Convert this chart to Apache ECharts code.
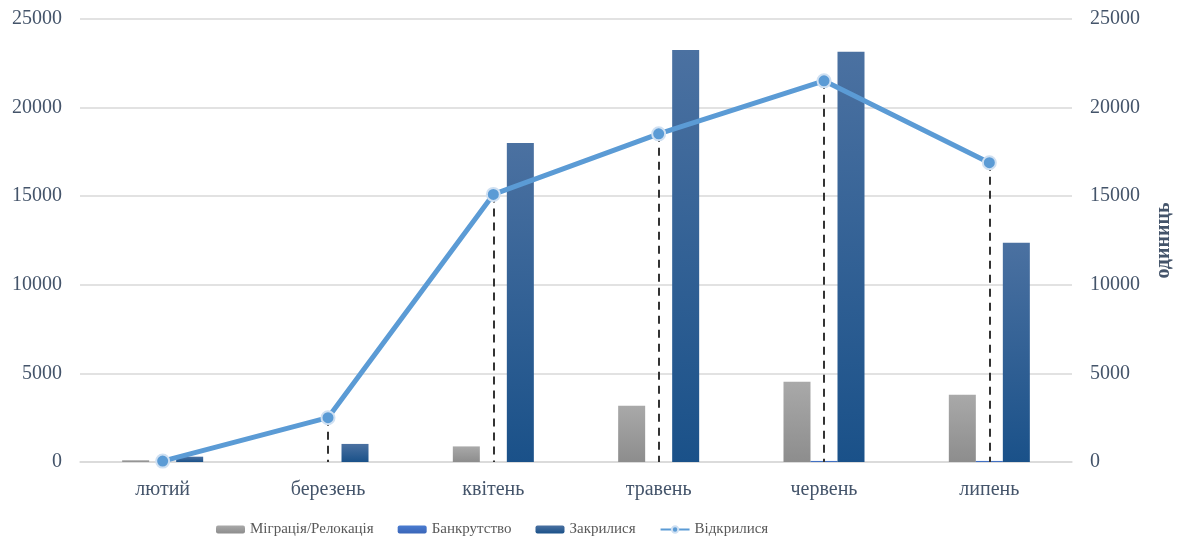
<!DOCTYPE html>
<html>
<head>
<meta charset="utf-8">
<script src="https://cdn.jsdelivr.net/npm/echarts@6/dist/echarts.min.js"></script>
<style>
html, body { margin: 0; padding: 0; background: #fff; }
#chart { width: 1177px; height: 544px; }
</style>
</head>
<body>
<div id="chart"></div>
<script>
// місяці
var months = ['лютий', 'березень', 'квітень', 'травень', 'червень', 'липень'];
var migration = [100, 0, 880, 3170, 4530, 3800];        // Міграція/Релокація
var bankrupt = [0, 0, 0, 0, 60, 60];                    // Банкрутство
var closedCount = [300, 1020, 18000, 23250, 23150, 12370]; // Закрилися (не "closed" - це window.closed)
var opened = [50, 2500, 15100, 18520, 21510, 16890];     // Відкрилися
var yTicks = [0, 5000, 10000, 15000, 20000, 25000];

var serif = '"Liberation Serif", "DejaVu Serif", serif';
var labelColor = '#44546a';

function grad(top, bottom) {
  return new echarts.graphic.LinearGradient(0, 0, 0, 1, [
    { offset: 0, color: top }, { offset: 1, color: bottom }
  ]);
}

var yMax = yTicks[yTicks.length - 1];
var yStep = yTicks[1] - yTicks[0];
var plain = function (v) { return String(v); };

var chart = echarts.init(document.getElementById('chart'));
chart.setOption({
  animation: false,
  grid: { left: 80, right: 105, top: 19, bottom: 82, outerBoundsMode: 'none', containLabel: false },
  legend: {
    bottom: 2,
    left: 211,
    itemWidth: 29,
    itemHeight: 8,
    itemGap: 24,
    textStyle: { fontFamily: serif, fontSize: 15, color: '#595959' },
    data: ['Міграція/Релокація', 'Банкрутство', 'Закрилися', 'Відкрилися']
  },
  xAxis: {
    type: 'category',
    data: months,
    axisTick: { show: false },
    axisLine: { lineStyle: { color: '#d9d9d9', width: 1.5 } },
    axisLabel: { fontFamily: serif, fontSize: 20, color: labelColor, margin: 18 }
  },
  yAxis: [{
    type: 'value', min: 0, max: yMax, interval: yStep,
    axisLabel: { fontFamily: serif, fontSize: 20, color: labelColor, margin: 18, formatter: plain },
    splitLine: { lineStyle: { color: '#d9d9d9', width: 1.5 } }
  }, {
    type: 'value', min: 0, max: yMax, interval: yStep,
    name: 'одиниць',
    nameLocation: 'middle',
    nameRotate: 90,
    nameGap: 82,
    nameTextStyle: { fontFamily: serif, fontSize: 20, fontWeight: 'bold', color: labelColor },
    axisLabel: { fontFamily: serif, fontSize: 20, color: labelColor, margin: 18, formatter: plain },
    splitLine: { show: false }
  }],
  series: [{
    name: 'Міграція/Релокація',
    type: 'bar',
    data: migration,
    barGap: '0%',
    barCategoryGap: '51%',
    itemStyle: { color: grad('#a9a9a9', '#8d8d8d') }
  }, {
    name: 'Банкрутство',
    type: 'bar',
    data: bankrupt,
    barGap: '0%',
    barCategoryGap: '51%',
    itemStyle: { color: grad('#4a7bd0', '#3a66b8') }
  }, {
    name: 'Закрилися',
    type: 'bar',
    data: closedCount,
    barGap: '0%',
    barCategoryGap: '51%',
    itemStyle: { color: grad('#4b71a1', '#1a5189') }
  }, {
    name: 'Відкрилися',
    type: 'line',
    yAxisIndex: 1,
    data: opened,
    symbol: 'circle',
    symbolSize: 13,
    z: 5,
    lineStyle: { color: '#5b9bd5', width: 5 },
    itemStyle: { color: '#5b9bd5', borderColor: '#cfe0f2', borderWidth: 2 },
    markLine: {
      silent: true,
      symbol: 'none',
      label: { show: false },
      lineStyle: { color: '#333333', type: [8, 6], width: 2 },
      data: opened.map(function (v, i) {
        return [{ coord: [months[i], v] }, { coord: [months[i], 0] }];
      })
    }
  }]
});
</script>
</body>
</html>
